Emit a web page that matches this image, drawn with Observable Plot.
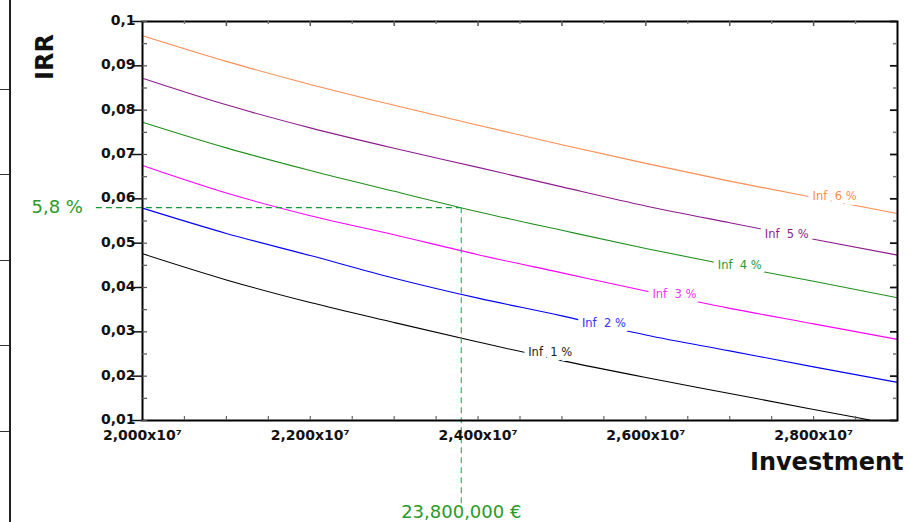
<!DOCTYPE html>
<html><head><meta charset="utf-8">
<script src="https://cdn.jsdelivr.net/npm/d3@7"></script>
<script src="https://cdn.jsdelivr.net/npm/@observablehq/plot@0.6"></script>
<style>
body{margin:0;background:#fff;}
#wrap{position:relative;width:911px;height:522px;overflow:hidden;}
#edge{position:absolute;left:0;top:0;width:9px;height:522px;border-right:2.5px solid #222;}
.etick{position:absolute;left:0;width:9px;height:0;border-top:1.3px solid #333;}
#irr{position:absolute;left:45px;top:57px;transform:translate(-50%,-50%) rotate(-90deg);font:bold 24px "DejaVu Sans";color:#111;white-space:nowrap;line-height:1;}
</style></head>
<body><div id="wrap"></div>
<script>
// ---- data ----
const investment = [2.0e7, 2.1e7, 2.2e7, 2.3e7, 2.4e7, 2.5e7, 2.6e7, 2.7e7, 2.8e7, 2.9e7];
const investmentInf1 = [2.0e7, 2.1e7, 2.2e7, 2.3e7, 2.4e7, 2.5e7, 2.6e7, 2.7e7, 2.8e7, 2.867e7];
const inf1 = [0.0476, 0.0417, 0.0366, 0.0321, 0.0277, 0.0235, 0.0197, 0.0161, 0.0125, 0.0101];
const inf2 = [0.0579, 0.0522, 0.0472, 0.0421, 0.0376, 0.0336, 0.0293, 0.0257, 0.0221, 0.0186];
const inf3 = [0.0675, 0.0613, 0.0562, 0.0519, 0.0474, 0.0433, 0.0392, 0.0353, 0.0318, 0.0283];
const inf4 = [0.0773, 0.0715, 0.0664, 0.0617, 0.0571, 0.0529, 0.0488, 0.0450, 0.0414, 0.0377];
const inf5 = [0.0872, 0.0812, 0.0760, 0.0714, 0.0671, 0.0627, 0.0584, 0.0546, 0.0509, 0.0473];
const inf6 = [0.0968, 0.0910, 0.0858, 0.0811, 0.0766, 0.0722, 0.0680, 0.0640, 0.0603, 0.0567];

const seriesNames = ["Inf\u00a0\u00a01 %", "Inf\u00a0\u00a02 %", "Inf\u00a0\u00a03 %", "Inf\u00a0\u00a04 %", "Inf\u00a0\u00a05 %", "Inf\u00a0\u00a06 %"];
const seriesColors = ["#000000", "#0000ff", "#ff00ff", "#1f8f1f", "#8e1c8e", "#ff8c50"];
const labelColors = ["#222222", "#3333ff", "#ff33ff", "#2a9a2a", "#8e1c8e", "#ff8c50"];
const labelX = [2.486e7, 2.55e7, 2.634e7, 2.712e7, 2.768e7, 2.825e7];
const labelY = [0.0253, 0.0319, 0.0384, 0.0450, 0.0520, 0.0605];

const yTicks = [0.01, 0.02, 0.03, 0.04, 0.05, 0.06, 0.07, 0.08, 0.09, 0.1];
const yTickLabels = ["0,01", "0,02", "0,03", "0,04", "0,05", "0,06", "0,07", "0,08", "0,09", "0,1"];
const yMinor = [0.015, 0.025, 0.035, 0.045, 0.055, 0.065, 0.075, 0.085, 0.095];
const xTicks = [2.0e7, 2.2e7, 2.4e7, 2.6e7, 2.8e7];
const xTickLabels = ["2,000x10\u2077", "2,200x10\u2077", "2,400x10\u2077", "2,600x10\u2077", "2,800x10\u2077"];
const xMajor = [2.1e7, 2.2e7, 2.3e7, 2.4e7, 2.5e7, 2.6e7, 2.7e7, 2.8e7];
const xMinor = [2.05e7, 2.15e7, 2.25e7, 2.35e7, 2.45e7, 2.55e7, 2.65e7, 2.75e7, 2.85e7];

const xTitle = "Investment";
const yTitle = "IRR";

// reference point
const refInvestment = 2.38e7;
const refIRR = 0.058;
const refLabelIRR = "5,8 %";
const refLabelInvestment = "23,800,000 \u20ac";
const refLineStartX = 1.945e7;
const refLabelX = 1.929e7;
const refLineBottomY = -0.0092;
const refLabelBottomY = -0.0107;

// ---- build rows ----
const allY = [inf1, inf2, inf3, inf4, inf5, inf6];
const rows = [];
allY.forEach((vals, s) => {
  const xs = s === 0 ? investmentInf1 : investment;
  vals.forEach((v, i) => rows.push({series: s, x: xs[i], y: v}));
});
const labels = seriesNames.map((n, i) => ({name: n, x: labelX[i], y: labelY[i], color: labelColors[i]}));

const W = 911, H = 522;
const mL = 142, mR = 14, mT = 21, mB = 102;
const FW = W - mL - mR, FH = H - mT - mB;
const font = "DejaVu Sans";

const chart = Plot.plot({
  width: W, height: H,
  marginLeft: mL, marginRight: mR, marginTop: mT, marginBottom: mB,
  style: {fontFamily: font, background: "white", overflow: "visible"},
  x: {domain: [2.0e7, 2.9e7], axis: null},
  y: {domain: [0.01, 0.1], axis: null},
  marks: [
    // lines
    ...allY.map((_, s) => Plot.line(rows.filter(r => r.series === s), {x: "x", y: "y", stroke: seriesColors[s], strokeWidth: 1.1, curve: "monotone-x"})),
    // reference dashed lines
    Plot.ruleY([refIRR], {x1: refLineStartX, x2: refInvestment, stroke: "#139a3a", strokeWidth: 1.2, strokeDasharray: "6,4"}),
    Plot.ruleX([refInvestment], {y1: refIRR, y2: refLineBottomY, stroke: "#33b36b", strokeWidth: 1.2, strokeDasharray: "6,4"}),
    Plot.text([refLabelIRR], {x: refLabelX, y: refIRR, text: d => d, textAnchor: "end", fill: "#2a9a2a", fontSize: 18}),
    Plot.text([refLabelInvestment], {x: refInvestment, y: refLabelBottomY, text: d => d, fill: "#2a9a2a", fontSize: 18}),
    // series labels with white halo
    Plot.text(labels, {x: "x", y: "y", text: "name", fill: "color", stroke: "white", strokeWidth: 10, fontSize: 11.5}),
    // frame
    Plot.frame({stroke: "black", strokeWidth: 2}),
    // left ticks: outward major, inward minor
    Plot.tickY(yTicks, {y: d => d, insetRight: FW - 10, dx: -10, stroke: "#111", strokeWidth: 1.5}),
    Plot.tickY(yTicks.concat(yMinor), {y: d => d, insetRight: FW - 5, stroke: "#555", strokeWidth: 1.2}),
    // right ticks inward
    Plot.tickY(yTicks, {y: d => d, insetLeft: FW - 7, stroke: "#111", strokeWidth: 1.8}),
    Plot.tickY(yMinor, {y: d => d, insetLeft: FW - 4, stroke: "#777", strokeWidth: 1.5}),
    // top ticks inward
    Plot.tickX(xMajor, {x: d => d, insetBottom: FH - 5, stroke: "#555", strokeWidth: 1.5}),
    Plot.tickX(xMinor, {x: d => d, insetBottom: FH - 3, stroke: "#777", strokeWidth: 1.3}),
    // bottom ticks inward
    Plot.tickX(xMajor.concat(xMinor), {x: d => d, insetTop: FH - 4, stroke: "#666", strokeWidth: 1.2}),
    // tick labels
    Plot.text(yTicks, {y: d => d, text: (d, i) => yTickLabels[i], frameAnchor: "left", dx: -7, dy: -1, textAnchor: "end", fontWeight: "bold", fontSize: 14, fill: "#111"}),
    Plot.text(xTicks, {x: d => d, text: (d, i) => xTickLabels[i], frameAnchor: "bottom", lineAnchor: "middle", dy: 15, fontWeight: "bold", fontSize: 14, fill: "#111"}),
    // x axis title
    Plot.text([xTitle], {frameAnchor: "bottom-right", lineAnchor: "middle", dx: 6, dy: 42, textAnchor: "end", text: d => d, fontWeight: "bold", fontSize: 24, fill: "#111"})
  ]
});

const wrap = document.getElementById("wrap");
wrap.appendChild(chart);
// y axis title (rotated)
const irr = document.createElement("div");
irr.id = "irr";
irr.textContent = yTitle;
wrap.appendChild(irr);
// decorative edge of neighbouring panel
const edge = document.createElement("div");
edge.id = "edge";
wrap.appendChild(edge);
[89, 174, 260, 345, 431].forEach(t => {
  const d = document.createElement("div");
  d.className = "etick";
  d.style.top = t + "px";
  wrap.appendChild(d);
});
</script>
</body></html>
